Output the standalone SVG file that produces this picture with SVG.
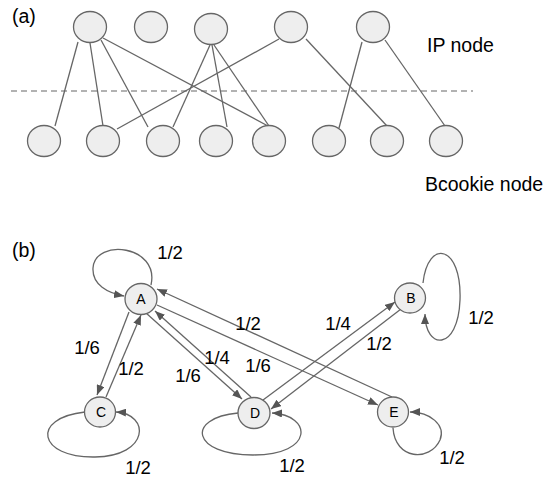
<svg xmlns="http://www.w3.org/2000/svg" width="559" height="479" viewBox="0 0 559 479">
<style>
.node{fill:#eeeeee;stroke:#666666;stroke-width:1.3}
.edge{fill:none;stroke:#666666;stroke-width:1.3}
.arr{fill:none;stroke:#666666;stroke-width:1.3;marker-end:url(#ah)}
.lbl{font-family:"Liberation Sans",Arial,sans-serif;font-size:19.5px;fill:#000}
.w{font-family:"Liberation Sans",Arial,sans-serif;font-size:18.5px;fill:#000;text-anchor:middle}
.n{font-family:"Liberation Sans",Arial,sans-serif;font-size:14px;fill:#000;text-anchor:middle}
</style>
<defs>
<marker id="ah" viewBox="0 0 10 8" refX="10" refY="4" markerWidth="10" markerHeight="8" markerUnits="userSpaceOnUse" orient="auto">
<path d="M0,0 L10,4 L0,8 Z" fill="#555555"/>
</marker>
</defs>
<rect width="559" height="479" fill="#ffffff"/>
<text class="lbl" x="12" y="23">(a)</text>
<text class="lbl" x="427" y="52">IP node</text>
<text class="lbl" x="425" y="191">Bcookie node</text>
<text class="lbl" x="12" y="257">(b)</text>
<g id="connectors-a">
<line x1="11" y1="91" x2="473" y2="91" stroke="#666666" stroke-width="1.2" stroke-dasharray="6,4"/>
<line class="edge" x1="78" y1="42" x2="55" y2="126"/>
<line class="edge" x1="90" y1="43" x2="103" y2="126"/>
<line class="edge" x1="101" y1="40" x2="148" y2="127"/>
<line class="edge" x1="103" y1="38" x2="268" y2="126"/>
<line class="edge" x1="210" y1="45" x2="173" y2="127"/>
<line class="edge" x1="212" y1="45" x2="227" y2="127"/>
<line class="edge" x1="214" y1="45" x2="269" y2="126"/>
<line class="edge" x1="279" y1="39" x2="117" y2="129"/>
<line class="edge" x1="306" y1="39" x2="387" y2="126"/>
<line class="edge" x1="362" y1="42" x2="339" y2="128"/>
<line class="edge" x1="385" y1="40" x2="445" y2="126"/>
</g>
<g id="ip1"><ellipse class="node" cx="90" cy="27" rx="16.5" ry="15.5"/></g>
<g id="ip2"><ellipse class="node" cx="151" cy="27" rx="16.5" ry="15.5"/></g>
<g id="ip3"><ellipse class="node" cx="211" cy="29" rx="16.5" ry="15.5"/></g>
<g id="ip4"><ellipse class="node" cx="291" cy="27" rx="16.5" ry="15.5"/></g>
<g id="ip5"><ellipse class="node" cx="373" cy="27" rx="16.5" ry="15.5"/></g>
<g id="bc1"><ellipse class="node" cx="44" cy="141" rx="16.5" ry="15.5"/></g>
<g id="bc2"><ellipse class="node" cx="103" cy="141" rx="16.5" ry="15.5"/></g>
<g id="bc3"><ellipse class="node" cx="163" cy="141" rx="16.5" ry="15.5"/></g>
<g id="bc4"><ellipse class="node" cx="216" cy="141" rx="16.5" ry="15.5"/></g>
<g id="bc5"><ellipse class="node" cx="269" cy="141" rx="16.5" ry="15.5"/></g>
<g id="bc6"><ellipse class="node" cx="329" cy="141" rx="16.5" ry="15.5"/></g>
<g id="bc7"><ellipse class="node" cx="387" cy="141" rx="16.5" ry="15.5"/></g>
<g id="bc8"><ellipse class="node" cx="446" cy="141" rx="16.5" ry="15.5"/></g>
<g id="connectors-b">
<path class="arr" d="M151,285 C160,245 95,238 93,268 C92,285 108,293 124,296"/>
<line class="arr" x1="129" y1="312" x2="97" y2="395"/>
<line class="arr" x1="106" y1="397" x2="141" y2="315"/>
<line class="arr" x1="146" y1="313" x2="242" y2="399"/>
<line class="arr" x1="251" y1="397" x2="155" y2="311"/>
<line class="arr" x1="157" y1="305" x2="378" y2="405"/>
<line class="arr" x1="392" y1="397" x2="157" y2="289"/>
<line class="arr" x1="263" y1="400" x2="395" y2="302"/>
<line class="arr" x1="401" y1="309" x2="271" y2="409"/>
<path class="arr" d="M423,283 C428,238 462,245 460,300 C458,352 425,350 425,314"/>
<path class="arr" d="M85,412 C30,418 38,458 95,457 C150,456 150,414 116,412"/>
<path class="arr" d="M238,413 C185,418 192,455 253,455 C315,455 312,415 272,413"/>
<path class="arr" d="M393,428 C395,460 430,462 440,440 C446,425 430,412 410,412"/>
</g>
<g id="A"><ellipse class="node" cx="141" cy="299" rx="16" ry="15.5"/><text class="n" x="141" y="304">A</text></g>
<g id="B"><ellipse class="node" cx="410" cy="298" rx="15.5" ry="15"/><text class="n" x="411" y="303">B</text></g>
<g id="C"><ellipse class="node" cx="100" cy="412" rx="15.5" ry="15"/><text class="n" x="101" y="417">C</text></g>
<g id="D"><ellipse class="node" cx="254" cy="413" rx="16" ry="15.5"/><text class="n" x="255" y="418">D</text></g>
<g id="E"><ellipse class="node" cx="393" cy="412" rx="15.5" ry="15"/><text class="n" x="394" y="417">E</text></g>
<g id="edge-labels">
<text class="w" x="170" y="259">1/2</text>
<text class="w" x="87" y="354">1/6</text>
<text class="w" x="131" y="375">1/2</text>
<text class="w" x="188" y="382">1/6</text>
<text class="w" x="217" y="364">1/4</text>
<text class="w" x="258" y="372">1/6</text>
<text class="w" x="248" y="330">1/2</text>
<text class="w" x="138" y="474">1/2</text>
<text class="w" x="292" y="472">1/2</text>
<text class="w" x="338" y="330">1/4</text>
<text class="w" x="379" y="350">1/2</text>
<text class="w" x="481" y="324">1/2</text>
<text class="w" x="452" y="464">1/2</text>
</g>
</svg>
